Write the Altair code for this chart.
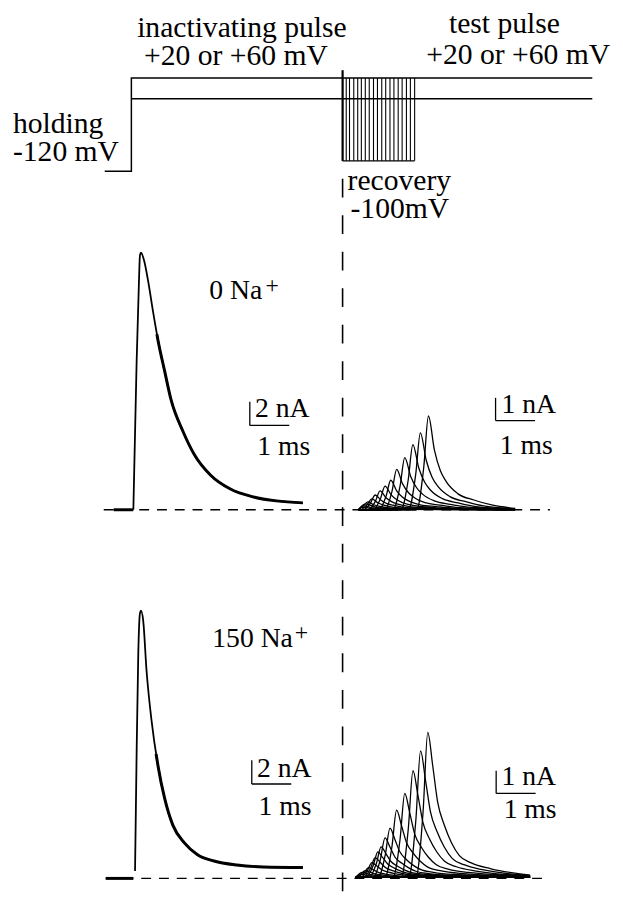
import altair as alt
import pandas as pd

FONT = "Times New Roman, Liberation Serif, serif"
W, H = 615, 892

# ---------------- shared time axis (ms) ----------------
T_DOMAIN = [-3.125, 12.25]

# ---------------- voltage protocol (mV) ----------------
V_DOMAIN = [-120, 60]
PROTO_HI = [(-0.675, -120), (0.0, -120), (0.0, 60), (11.675, 60)]
PROTO_LO = [(0.0, 20), (11.675, 20)]
RECOVERY_V = -100
RECOVERY_T = [5.35, 7.175]
STRIPES_T = [5.35, 5.442, 5.525, 5.633, 5.733, 5.825, 5.925, 6.025, 6.133, 6.233,
             6.342, 6.442, 6.55, 6.65, 6.758, 6.858, 6.967, 7.067, 7.175]
DIVIDER_T = 5.35
DIVIDER_TOP_V = 75

PROTO_LABELS_CENTER = [("inactivating pulse", 2.8, 138.1),
                       ("+20 or +60 mV", 2.65, 84.8),
                       ("test pulse", 9.45, 147.6),
                       ("+20 or +60 mV", 9.8, 86.7)]
PROTO_LABELS_LEFT = [("holding", -3.0, -46.7), ("-120 mV", -3.0, -100.0),
                     ("recovery", 5.475, -157.1), ("-100mV", 5.55, -210.5)]

# ---------------- 0 Na+ : inactivating pulse current (nA) ----------------
L2_T = [0.05, 0.133, 0.193, 0.218, 0.243, 0.325, 0.425, 0.55, 0.675, 0.843, 1.008,
        1.3, 1.593, 2.008, 2.508, 3.093, 3.675, 4.343]
L2_I = [0.0, 12.5, 19.4, 21.5, 21.7, 21.0, 19.3, 16.7, 14.3, 11.7, 9.25,
        6.67, 4.67, 2.92, 1.75, 1.08, 0.75, 0.58]
L2_HOLD = [-0.45, 0.05]
L2_BASE = [-0.7, 10.6]

# ---------------- 150 Na+ : inactivating pulse current (nA) ----------------
L3_T = [0.093, 0.133, 0.175, 0.218, 0.243, 0.3, 0.383, 0.508, 0.675, 0.843, 1.05,
        1.343, 1.675, 2.093, 2.675, 3.343, 4.343]
L3_I = [0.63, 10.6, 19.0, 22.4, 22.6, 21.75, 17.6, 13.4, 9.5, 6.75, 4.5,
        3.0, 2.0, 1.47, 1.13, 0.97, 0.92]
L3_HOLD = [-0.65, 0.05]
L3_BASE = [-0.65, 10.6]

# ---------------- 0 Na+ : test pulse currents (nA) ----------------
R2_TRACES = [
    [(5.75, 0), (7.225, 0), (7.405, 1.86), (7.525, 4.13), (7.675, 2.64), (7.825, 1.73), (7.975, 1.24), (8.275, 0.70), (8.675, 0.43), (9.125, 0.21), (9.72, 0.06)],
    [(5.75, 0), (7.02, 0), (7.2, 1.53), (7.32, 3.39), (7.47, 2.17), (7.62, 1.42), (7.77, 1.02), (8.07, 0.58), (8.47, 0.36), (8.92, 0.17), (9.72, 0.05)],
    [(5.75, 0), (6.83, 0), (7.01, 1.29), (7.13, 2.87), (7.28, 1.84), (7.43, 1.21), (7.58, 0.86), (7.88, 0.49), (8.28, 0.30), (8.73, 0.14), (9.72, 0.04)],
    [(5.75, 0), (6.625, 0), (6.805, 1.04), (6.925, 2.30), (7.075, 1.47), (7.225, 0.97), (7.375, 0.69), (7.675, 0.39), (8.075, 0.24), (8.525, 0.12), (9.72, 0.03)],
    [(5.75, 0), (6.42, 0), (6.6, 0.80), (6.72, 1.78), (6.87, 1.14), (7.02, 0.75), (7.17, 0.53), (7.47, 0.30), (7.87, 0.19), (8.32, 0.09), (9.72, 0.03)],
    [(5.75, 0), (6.27, 0), (6.45, 0.59), (6.57, 1.30), (6.72, 0.83), (6.87, 0.55), (7.02, 0.39), (7.32, 0.22), (7.72, 0.14), (8.17, 0.07), (9.72, 0.02)],
    [(5.75, 0), (6.125, 0), (6.305, 0.47), (6.425, 1.04), (6.575, 0.67), (6.725, 0.44), (6.875, 0.31), (7.175, 0.18), (7.575, 0.11), (8.025, 0.05), (9.72, 0.02)],
    [(5.75, 0), (6.0, 0), (6.18, 0.37), (6.3, 0.83), (6.45, 0.53), (6.6, 0.35), (6.75, 0.25), (7.05, 0.14), (7.45, 0.09), (7.9, 0.04), (9.72, 0.01)],
    [(5.75, 0), (5.875, 0), (6.055, 0.29), (6.175, 0.65), (6.325, 0.42), (6.475, 0.27), (6.625, 0.20), (6.925, 0.11), (7.325, 0.07), (7.775, 0.03), (9.72, 0.01)],
    [(5.75, 0), (5.79, 0), (5.97, 0.22), (6.09, 0.48), (6.24, 0.31), (6.39, 0.20), (6.54, 0.14), (6.84, 0.08), (7.24, 0.05), (7.69, 0.02), (9.72, 0.01)],
    [(5.75, 0), (5.87, 0.16), (5.99, 0.35), (6.14, 0.22), (6.29, 0.15), (6.44, 0.10), (6.74, 0.06), (7.14, 0.04), (7.59, 0.02), (9.72, 0.0)],
    [(5.75, 0), (5.93, 0.26), (6.2, 0.11), (6.7, 0.04), (9.72, 0)],
    [(5.75, 0), (5.88, 0.17), (6.15, 0.07), (6.65, 0.03), (9.72, 0)],
    [(5.75, 0), (5.83, 0.11), (6.1, 0.05), (6.6, 0.02), (9.72, 0)],
]

# ---------------- 150 Na+ : test pulse currents (nA) ----------------
R3_TRACES = [
    [(5.68, 0), (7.208, 0), (7.388, 2.88), (7.508, 6.39), (7.633, 4.92), (7.758, 3.32), (7.928, 2.30), (8.108, 1.53), (8.308, 0.96), (8.608, 0.64), (9.108, 0.38), (10.1, 0.10)],
    [(5.68, 0), (7.025, 0), (7.205, 2.51), (7.325, 5.57), (7.45, 4.29), (7.575, 2.90), (7.745, 2.01), (7.925, 1.34), (8.125, 0.84), (8.425, 0.56), (8.925, 0.33), (10.1, 0.08)],
    [(5.68, 0), (6.833, 0), (7.013, 2.12), (7.133, 4.70), (7.258, 3.62), (7.383, 2.44), (7.553, 1.69), (7.733, 1.13), (7.933, 0.71), (8.233, 0.47), (8.733, 0.28), (10.1, 0.07)],
    [(5.68, 0), (6.625, 0), (6.805, 1.67), (6.925, 3.70), (7.05, 2.85), (7.175, 1.92), (7.345, 1.33), (7.525, 0.89), (7.725, 0.56), (8.025, 0.37), (8.525, 0.22), (10.1, 0.06)],
    [(5.68, 0), (6.418, 0), (6.598, 1.33), (6.718, 2.96), (6.843, 2.28), (6.968, 1.54), (7.138, 1.07), (7.318, 0.71), (7.518, 0.44), (7.818, 0.30), (8.318, 0.18), (10.1, 0.04)],
    [(5.68, 0), (6.25, 0), (6.43, 0.98), (6.55, 2.17), (6.675, 1.67), (6.8, 1.13), (6.97, 0.78), (7.15, 0.52), (7.35, 0.33), (7.65, 0.22), (8.15, 0.13), (10.1, 0.03)],
    [(5.68, 0), (6.125, 0), (6.305, 0.78), (6.425, 1.74), (6.55, 1.34), (6.675, 0.90), (6.845, 0.63), (7.025, 0.42), (7.225, 0.26), (7.525, 0.17), (8.025, 0.10), (10.1, 0.03)],
    [(5.68, 0), (6.025, 0), (6.205, 0.61), (6.325, 1.35), (6.45, 1.04), (6.575, 0.70), (6.745, 0.49), (6.925, 0.32), (7.125, 0.20), (7.425, 0.14), (7.925, 0.08), (10.1, 0.02)],
    [(5.68, 0), (5.943, 0), (6.123, 0.51), (6.243, 1.13), (6.368, 0.87), (6.493, 0.59), (6.663, 0.41), (6.843, 0.27), (7.043, 0.17), (7.343, 0.11), (7.843, 0.07), (10.1, 0.02)],
    [(5.68, 0), (5.875, 0), (6.055, 0.39), (6.175, 0.87), (6.3, 0.67), (6.425, 0.45), (6.595, 0.31), (6.775, 0.21), (6.975, 0.13), (7.275, 0.09), (7.775, 0.05), (10.1, 0.01)],
    [(5.68, 0), (5.793, 0), (5.973, 0.29), (6.093, 0.65), (6.218, 0.50), (6.343, 0.34), (6.513, 0.23), (6.693, 0.16), (6.893, 0.10), (7.193, 0.07), (7.693, 0.04), (10.1, 0.01)],
    [(5.68, 0), (5.888, 0.19), (6.008, 0.43), (6.133, 0.33), (6.258, 0.22), (6.428, 0.15), (6.608, 0.10), (6.808, 0.06), (7.108, 0.04), (7.608, 0.03), (10.1, 0.01)],
    [(5.68, 0), (5.805, 0.13), (5.925, 0.30), (6.05, 0.23), (6.175, 0.16), (6.345, 0.11), (6.525, 0.07), (6.725, 0.05), (7.025, 0.03), (10.1, 0)],
    [(5.68, 0), (5.85, 0.22), (6.1, 0.11), (6.45, 0.05), (7.0, 0.02), (10.1, 0)],
    [(5.68, 0), (5.8, 0.13), (6.05, 0.07), (6.6, 0.02), (10.1, 0)],
]

# ---------------- scale bars and labels of the current panels ----------------
# (label, t, value, font size)
L2_LABELS_LEFT = [("0 Na", 1.975, 17.8, 28), ("+", 3.4, 18.3, 24), ("2 nA", 3.13, 7.8, 28)]
L2_LABELS_CENTER = [("1 ms", 3.86, 4.6, 28)]
L2_BAR = (3.0, 7.125, 2.0, 1.0)       # t, base nA, height nA, length ms
L3_LABELS_LEFT = [("150 Na", 2.05, 19.5, 28), ("+", 4.14, 20.1, 24), ("2 nA", 3.18, 8.6, 28)]
L3_LABELS_CENTER = [("1 ms", 3.89, 5.33, 28)]
L3_BAR = (3.05, 7.97, 2.0, 1.0)
R2_LABELS_LEFT = [("1 nA", 9.375, 4.28, 28)]
R2_LABELS_CENTER = [("1 ms", 10.0, 2.45, 28)]
R2_BAR = (9.225, 3.93, 1.0, 1.0)
R3_LABELS_LEFT = [("1 nA", 9.375, 4.05, 28)]
R3_LABELS_CENTER = [("1 ms", 10.1, 2.6, 28)]
R3_BAR = (9.24, 3.70, 1.0, 1.0)

# ---------------- scales ----------------
XS = alt.Scale(domain=T_DOMAIN, nice=False, zero=False)


def ysc(domain, rng):
    return alt.Scale(domain=domain, range=rng, nice=False, zero=False)


PS = ysc(V_DOMAIN, [159.5, 65])
L2S = ysc([0, 20], [502.5, 262.5])
R2S = ysc([0, 5], [502.5, 387.5])
L3S = ysc([0, 20], [876, 636])
R3S = ysc([0, 5], [875, 760])


def X(f="t"):
    return alt.X(f"{f}:Q", scale=XS, axis=None)


def Y(sc, f="v"):
    return alt.Y(f"{f}:Q", scale=sc, axis=None)


layers = []

# protocol lines
prows = []
for s, pts in enumerate([PROTO_HI, PROTO_LO]):
    for i, (t, v) in enumerate(pts):
        prows.append({"s": s, "i": i, "t": t, "v": v})
layers.append(alt.Chart(pd.DataFrame(prows)).mark_line(color="black", strokeWidth=1.5).encode(
    x=X(), y=Y(PS), detail="s:N", order="i:Q"))

# recovery box: stripes + bottom
stripes = pd.DataFrame({"t": STRIPES_T, "v": [PROTO_HI[-1][1]] * len(STRIPES_T),
                        "v2": [RECOVERY_V] * len(STRIPES_T)})
layers.append(alt.Chart(stripes).mark_rule(color="black", strokeWidth=1.1).encode(
    x=X(), y=Y(PS), y2="v2:Q"))
layers.append(alt.Chart(pd.DataFrame({"t": [RECOVERY_T[0]], "t2": [RECOVERY_T[1]], "v": [RECOVERY_V]}))
              .mark_rule(color="black", strokeWidth=1.4).encode(x=X(), x2="t2:Q", y=Y(PS)))
layers.append(alt.Chart(pd.DataFrame({"t": [DIVIDER_T], "v": [DIVIDER_TOP_V], "v2": [RECOVERY_V]}))
              .mark_rule(color="black", strokeWidth=2.2).encode(x=X(), y=Y(PS), y2="v2:Q"))

# dashed divider through the current panels
layers.append(alt.Chart(pd.DataFrame({"t": [DIVIDER_T]})).mark_rule(
    color="black", strokeWidth=1.6, strokeDash=[19, 18]).encode(
    x=X(), y=alt.value(167), y2=alt.value(H)))

# protocol labels
for rows, align in [(PROTO_LABELS_CENTER, "center"), (PROTO_LABELS_LEFT, "left")]:
    df = pd.DataFrame(rows, columns=["label", "t", "v"])
    layers.append(alt.Chart(df).mark_text(font=FONT, fontSize=30, align=align, baseline="alphabetic",
                                          color="black").encode(
        x=X(), y=Y(PS), text="label:N"))


def current_panel(left_t, left_i, hold, base, lsc, thick_gap, traces, rsc, bars, labels):
    out = []
    # dashed zero line
    out.append(alt.Chart(pd.DataFrame({"t": [base[0]], "t2": [base[1]], "v": [0.0]}))
               .mark_rule(color="black", strokeWidth=1.3, strokeDash=[10, 8]).encode(
        x=X(), x2="t2:Q", y=Y(lsc)))
    # holding current
    out.append(alt.Chart(pd.DataFrame({"t": [hold[0]], "t2": [hold[1]], "v": [0.0]}))
               .mark_rule(color="black", strokeWidth=3).encode(x=X(), x2="t2:Q", y=Y(lsc)))
    # inactivating-pulse current: thin rise, thicker (superimposed) decay
    ldf = pd.DataFrame({"t": left_t, "v": left_i})
    out.append(alt.Chart(ldf).mark_line(color="black", strokeWidth=1.8, interpolate="monotone").encode(
        x=X(), y=Y(lsc)))
    out.append(alt.Chart(ldf).mark_line(
        color="black", strokeWidth=3.0, interpolate="monotone",
        strokeDash=[0, thick_gap, 4000]).encode(x=X(), y=Y(lsc)))
    # test-pulse currents
    rows = []
    for k, tr in enumerate(traces):
        for i, (t, v) in enumerate(tr):
            rows.append({"k": k, "i": i, "t": t, "v": v})
    out.append(alt.Chart(pd.DataFrame(rows)).mark_line(
        color="black", strokeWidth=1.3, interpolate="monotone").encode(
        x=X(), y=Y(rsc), detail="k:N", order="i:Q"))
    # scale bars
    for (t0, b0, hgt, ln), sc in bars:
        out.append(alt.Chart(pd.DataFrame({"t": [t0], "v": [b0], "v2": [b0 + hgt]}))
                   .mark_rule(color="black", strokeWidth=1.3).encode(x=X(), y=Y(sc), y2="v2:Q"))
        out.append(alt.Chart(pd.DataFrame({"t": [t0], "t2": [t0 + ln], "v": [b0]}))
                   .mark_rule(color="black", strokeWidth=1.3).encode(x=X(), x2="t2:Q", y=Y(sc)))
    # labels
    for rows_, align, sc in labels:
        df = pd.DataFrame(rows_, columns=["label", "t", "v", "fs"])
        out.append(alt.Chart(df).mark_text(font=FONT, align=align, baseline="alphabetic",
                                           color="black").encode(
            x=X(), y=Y(sc), text="label:N", size=alt.Size("fs:Q", scale=None, legend=None)))
    return out


layers += current_panel(L2_T, L2_I, L2_HOLD, L2_BASE, L2S, 345, R2_TRACES, R2S,
                        [(L2_BAR, L2S), (R2_BAR, R2S)],
                        [(L2_LABELS_LEFT, "left", L2S), (L2_LABELS_CENTER, "center", L2S),
                         (R2_LABELS_LEFT, "left", R2S), (R2_LABELS_CENTER, "center", R2S)])
layers += current_panel(L3_T, L3_I, L3_HOLD, L3_BASE, L3S, 410, R3_TRACES, R3S,
                        [(L3_BAR, L3S), (R3_BAR, R3S)],
                        [(L3_LABELS_LEFT, "left", L3S), (L3_LABELS_CENTER, "center", L3S),
                         (R3_LABELS_LEFT, "left", R3S), (R3_LABELS_CENTER, "center", R3S)])

chart = (alt.layer(*layers)
         .resolve_scale(y="independent")
         .properties(width=W, height=H, autosize=alt.AutoSizeParams(type="none"), padding=0,
                     background="white")
         .configure_view(stroke=None))

chart.save("out.html", embed_options={"renderer": "svg", "actions": False})
